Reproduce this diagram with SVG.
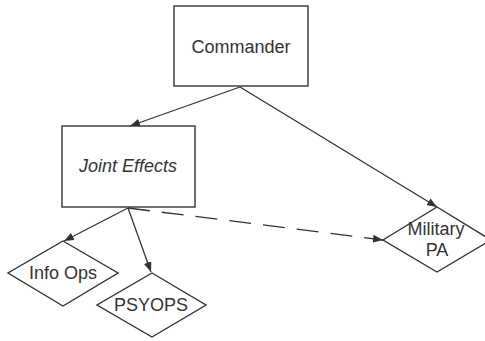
<svg xmlns="http://www.w3.org/2000/svg" width="485" height="341" viewBox="0 0 485 341">
<style>
.box{fill:#fff;stroke:#333;stroke-width:1.4}
.lbl{font-family:"Liberation Sans",Arial,sans-serif;font-size:18px;fill:#333;text-anchor:middle}
.edge{fill:none;stroke:#333;stroke-width:1.3}
.dash{stroke-dasharray:22 12}
</style>
<defs>
<marker id="ah" viewBox="0 0 10 8" refX="10" refY="4" markerWidth="10" markerHeight="8" markerUnits="userSpaceOnUse" orient="auto">
<path d="M0,0 L10,4 L0,8 Z" fill="#333"/>
</marker>
</defs>
<rect width="485" height="341" fill="#fff"/>
<g id="connectors">
<line class="edge" x1="240" y1="87" x2="130" y2="126" marker-end="url(#ah)"/>
<line class="edge" x1="240" y1="87" x2="437" y2="207" marker-end="url(#ah)"/>
<line class="edge" x1="128" y1="208" x2="64" y2="241" marker-end="url(#ah)"/>
<line class="edge" x1="128" y1="208" x2="151" y2="272" marker-end="url(#ah)"/>
<line class="edge dash" x1="128" y1="208" x2="383" y2="240" marker-end="url(#ah)"/>
</g>
<g id="commander">
<rect class="box" x="174" y="6" width="134" height="80"/>
<text class="lbl" x="241" y="53">Commander</text>
</g>
<g id="joint-effects">
<rect class="box" x="62" y="126" width="133" height="81"/>
<text class="lbl" x="128" y="172" font-style="italic">Joint Effects</text>
</g>
<g id="info-ops">
<polygon class="box" points="63,241 118,273 63,306 8,273"/>
<text class="lbl" x="63" y="279">Info Ops</text>
</g>
<g id="psyops">
<polygon class="box" points="152,273 206,305 152,337 97,305"/>
<text class="lbl" x="151" y="311">PSYOPS</text>
</g>
<g id="military-pa">
<polygon class="box" points="437,207 491,240 437,272 383,240"/>
<text class="lbl" x="436" y="235">Military</text>
<text class="lbl" x="437" y="256">PA</text>
</g>
</svg>
